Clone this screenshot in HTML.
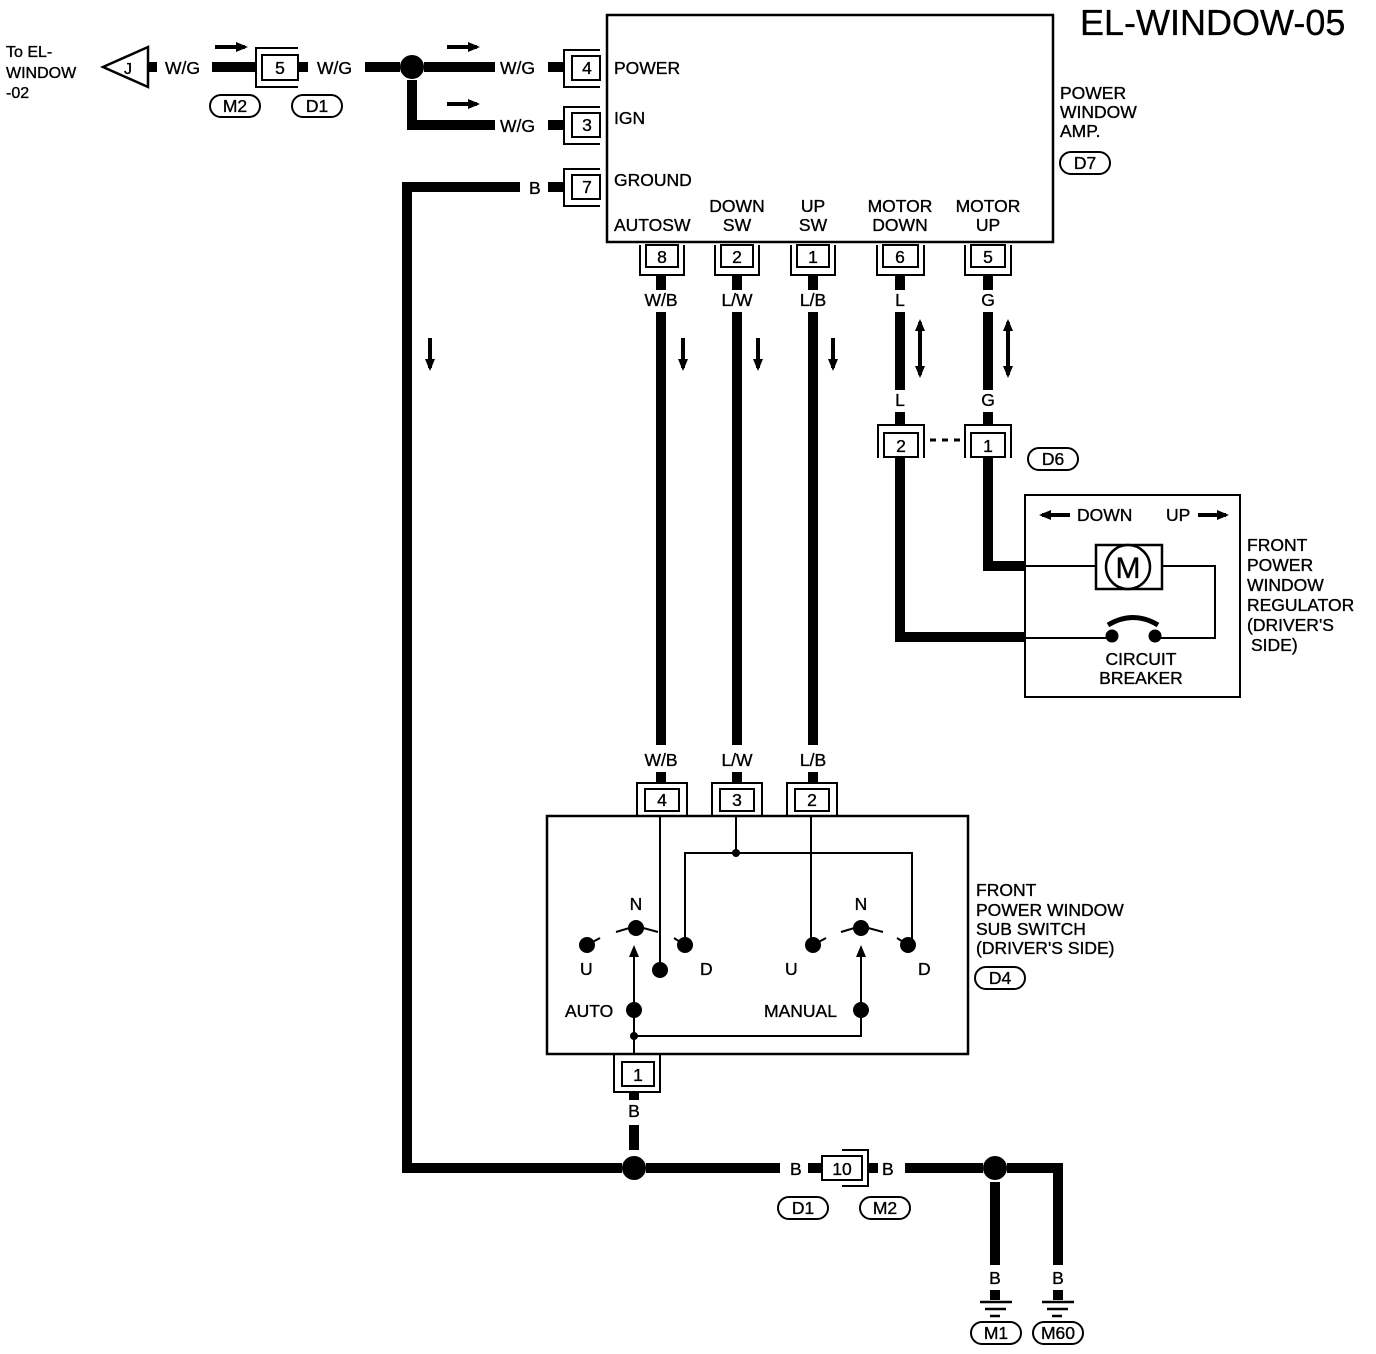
<!DOCTYPE html>
<html><head><meta charset="utf-8"><style>
html,body{margin:0;padding:0;background:#fff}
svg{display:block}
text{font-family:"Liberation Sans",sans-serif;font-size:17.5px;fill:#000;stroke:#000;stroke-width:0.35}
</style></head><body>
<svg width="1376" height="1354" viewBox="0 0 1376 1354" xmlns="http://www.w3.org/2000/svg">
<defs>
<marker id="ah" markerWidth="12" markerHeight="10" refX="9" refY="5" orient="auto-start-reverse" markerUnits="userSpaceOnUse"><path d="M0,0 L12,5 L0,10z" fill="#000"/></marker>
</defs>
<g stroke="#000" fill="none">
<rect x="607" y="15" width="446" height="227" stroke-width="2.5"/>
<g stroke-width="2">
<rect x="572" y="56" width="28" height="24"/><polyline points="600,50 564,50 564,87 600,87"/>
<rect x="572" y="113" width="28" height="24"/><polyline points="600,107 564,107 564,144 600,144"/>
<rect x="572" y="175" width="28" height="24"/><polyline points="600,169 564,169 564,206 600,206"/>
<rect x="262" y="55" width="36" height="25"/><polyline points="298,48 256,48 256,87 298,87"/>
<rect x="646" y="245" width="32" height="22"/><polyline points="640,245 640,275 684,275 684,245"/>
<rect x="721" y="245" width="32" height="22"/><polyline points="715,245 715,275 759,275 759,245"/>
<rect x="797" y="245" width="32" height="22"/><polyline points="791,245 791,275 835,275 835,245"/>
<rect x="883" y="245" width="35" height="22"/><polyline points="877,245 877,275 924,275 924,245"/>
<rect x="971" y="245" width="34" height="22"/><polyline points="965,245 965,275 1011,275 1011,245"/>
<rect x="884" y="433" width="34" height="24"/><polyline points="878,458 878,425 924,425 924,458"/>
<rect x="971" y="433" width="34" height="24"/><polyline points="965,458 965,425 1011,425 1011,458"/>
<rect x="645" y="789" width="34" height="22"/><polyline points="637,816 637,783 687,783 687,816"/>
<rect x="720" y="789" width="34" height="22"/><polyline points="712,816 712,783 762,783 762,816"/>
<rect x="795" y="789" width="34" height="22"/><polyline points="787,816 787,783 837,783 837,816"/>
<rect x="622" y="1062" width="32" height="24"/><polyline points="614,1054 614,1092 660,1092 660,1054"/>
<rect x="822" y="1156" width="40" height="24"/><polyline points="842,1150 868,1150 868,1186 842,1186"/>
</g>
<line x1="930" y1="440" x2="962" y2="440" stroke-width="3" stroke-dasharray="6,6"/>
<g stroke-width="10">
<line x1="148" y1="67" x2="157" y2="67"/>
<line x1="212" y1="67" x2="256" y2="67"/>
<line x1="298" y1="67" x2="308" y2="67"/>
<line x1="365" y1="67" x2="400" y2="67"/>
<line x1="424" y1="67" x2="495" y2="67"/>
<line x1="548" y1="67" x2="564" y2="67"/>
<polyline points="412,80 412,125 495,125"/>
<line x1="548" y1="125" x2="564" y2="125"/>
<line x1="548" y1="187" x2="564" y2="187"/>
<polyline points="520,187 407,187 407,1168 622,1168"/>
<line x1="646" y1="1168" x2="780" y2="1168"/>
<line x1="808" y1="1168" x2="822" y2="1168"/>
<line x1="868" y1="1168" x2="878" y2="1168"/>
<line x1="905" y1="1168" x2="983" y2="1168"/>
<polyline points="1007,1168 1058,1168 1058,1265"/>
<line x1="995" y1="1182" x2="995" y2="1265"/>
<line x1="634" y1="1092" x2="634" y2="1100"/>
<line x1="634" y1="1125" x2="634" y2="1150"/>
<line x1="661" y1="275" x2="661" y2="290"/>
<line x1="737" y1="275" x2="737" y2="290"/>
<line x1="813" y1="275" x2="813" y2="290"/>
<line x1="900" y1="275" x2="900" y2="290"/>
<line x1="988" y1="275" x2="988" y2="290"/>
<line x1="661" y1="312" x2="661" y2="745"/>
<line x1="737" y1="312" x2="737" y2="745"/>
<line x1="813" y1="312" x2="813" y2="745"/>
<line x1="900" y1="312" x2="900" y2="390"/>
<line x1="988" y1="312" x2="988" y2="390"/>
<line x1="900" y1="412" x2="900" y2="425"/>
<line x1="988" y1="412" x2="988" y2="425"/>
<line x1="661" y1="772" x2="661" y2="783"/>
<line x1="737" y1="772" x2="737" y2="783"/>
<line x1="813" y1="772" x2="813" y2="783"/>
<polyline points="900,458 900,637 1025,637"/>
<polyline points="988,458 988,566 1025,566"/>
<line x1="995" y1="1290" x2="995" y2="1300"/>
<line x1="1058" y1="1290" x2="1058" y2="1300"/>
</g>
<polygon points="103,67 148,47 148,87" stroke-width="2.5"/>
<g stroke-width="4">
<line x1="215" y1="47" x2="245" y2="47" marker-end="url(#ah)"/>
<line x1="447" y1="47" x2="477" y2="47" marker-end="url(#ah)"/>
<line x1="447" y1="104" x2="477" y2="104" marker-end="url(#ah)"/>
<line x1="430" y1="338" x2="430" y2="368" marker-end="url(#ah)"/>
<line x1="683" y1="338" x2="683" y2="368" marker-end="url(#ah)"/>
<line x1="758" y1="338" x2="758" y2="368" marker-end="url(#ah)"/>
<line x1="833" y1="338" x2="833" y2="368" marker-end="url(#ah)"/>
<line x1="920" y1="322" x2="920" y2="375" marker-end="url(#ah)" marker-start="url(#ah)"/>
<line x1="1008" y1="322" x2="1008" y2="375" marker-end="url(#ah)" marker-start="url(#ah)"/>
<line x1="1070" y1="515" x2="1042" y2="515" marker-end="url(#ah)"/>
<line x1="1198" y1="515" x2="1226" y2="515" marker-end="url(#ah)"/>
</g>
<rect x="1025" y="495" width="215" height="202" stroke-width="2"/>
<rect x="1096" y="545" width="66" height="44" stroke-width="2.5" fill="#fff"/>
<circle cx="1128" cy="567" r="22" stroke-width="2.5" fill="#fff"/>
<g stroke-width="2">
<line x1="1025" y1="566" x2="1096" y2="566"/>
<polyline points="1162,566 1215,566 1215,638 1160,638"/>
<line x1="1025" y1="638" x2="1110" y2="638"/>
<path d="M1108,625 Q1133,610 1158,625" stroke-width="5"/>
</g>
<circle cx="1112" cy="636" r="6" fill="#000"/>
<circle cx="1155" cy="636" r="6" fill="#000"/>
<rect x="547" y="816" width="421" height="238" stroke-width="2.5"/>
<g stroke-width="2">
<line x1="660" y1="816" x2="660" y2="968"/>
<line x1="736" y1="816" x2="736" y2="853"/>
<polyline points="685,940 685,853 912,853 912,940"/>
<line x1="811" y1="816" x2="811" y2="940"/>
<line x1="634" y1="1054" x2="634" y2="1012"/>
<line x1="634" y1="1010" x2="634" y2="948" marker-end="url(#ah)"/>
<polyline points="634,1036 861,1036 861,1012"/>
<line x1="861" y1="1010" x2="861" y2="948" marker-end="url(#ah)"/>
<path d="M616,932 L636,926 L658,932"/>
<path d="M841,932 L861,926 L883,932"/>
<line x1="587" y1="945" x2="600" y2="938"/>
<line x1="685" y1="945" x2="674" y2="938"/>
<line x1="813" y1="945" x2="826" y2="938"/>
<line x1="908" y1="945" x2="897" y2="938"/>
</g>
</g>
<g fill="#000">
<circle cx="412" cy="67" r="12"/>
<circle cx="634" cy="1168" r="12"/>
<circle cx="995" cy="1168" r="12"/>
<circle cx="636" cy="928" r="8"/><circle cx="861" cy="928" r="8"/>
<circle cx="587" cy="945" r="8"/><circle cx="685" cy="945" r="8"/>
<circle cx="813" cy="945" r="8"/><circle cx="908" cy="945" r="8"/>
<circle cx="660" cy="970" r="8"/>
<circle cx="634" cy="1010" r="8"/><circle cx="861" cy="1010" r="8"/>
<circle cx="736" cy="853" r="4"/><circle cx="634" cy="1036" r="4"/>
</g>
<g stroke="#000" stroke-width="2.5">
<line x1="980" y1="1302" x2="1012" y2="1302"/><line x1="985" y1="1309" x2="1006" y2="1309"/><line x1="990" y1="1316" x2="1000" y2="1316"/>
<line x1="1042" y1="1302" x2="1074" y2="1302"/><line x1="1047" y1="1309" x2="1068" y2="1309"/><line x1="1052" y1="1316" x2="1062" y2="1316"/>
</g>
<g fill="none" stroke="#000" stroke-width="2">
<rect x="210" y="95" width="50" height="22" rx="11"/>
<rect x="292" y="95" width="50" height="22" rx="11"/>
<rect x="1060" y="152" width="50" height="22" rx="11"/>
<rect x="1028" y="448" width="50" height="22" rx="11"/>
<rect x="975" y="967" width="50" height="22" rx="11"/>
<rect x="778" y="1197" width="50" height="22" rx="11"/>
<rect x="860" y="1197" width="50" height="22" rx="11"/>
<rect x="971" y="1322" width="50" height="22" rx="11"/>
<rect x="1033" y="1322" width="50" height="22" rx="11"/>
</g>
<text x="1080" y="35" style="font-size:36px;stroke-width:0.3">EL-WINDOW-05</text>
<text x="6" y="57" style="font-size:16px">To EL-</text>
<text x="6" y="78" style="font-size:16px">WINDOW</text>
<text x="6" y="98" style="font-size:16px">-02</text>
<text x="124" y="74" style="font-size:16px">J</text>
<text x="165" y="74">W/G</text>
<text x="317" y="74">W/G</text>
<text x="500" y="74">W/G</text>
<text x="500" y="132">W/G</text>
<text x="529" y="194">B</text>
<g text-anchor="middle" style="font-size:16px">
<text x="280" y="74">5</text><text x="587" y="74">4</text><text x="587" y="131">3</text><text x="587" y="193">7</text>
<text x="662" y="263">8</text><text x="737" y="263">2</text><text x="813" y="263">1</text><text x="900" y="263">6</text><text x="988" y="263">5</text>
<text x="901" y="452">2</text><text x="988" y="452">1</text>
<text x="662" y="806">4</text><text x="737" y="806">3</text><text x="812" y="806">2</text>
<text x="638" y="1081">1</text><text x="842" y="1175">10</text>
<text x="235" y="112">M2</text><text x="317" y="112">D1</text><text x="1085" y="169">D7</text>
<text x="1053" y="465">D6</text><text x="1000" y="984">D4</text>
<text x="803" y="1214">D1</text><text x="885" y="1214">M2</text>
<text x="996" y="1339">M1</text><text x="1058" y="1339">M60</text>
</g>
<text x="614" y="74">POWER</text>
<text x="614" y="124">IGN</text>
<text x="614" y="186">GROUND</text>
<text x="614" y="231">AUTOSW</text>
<g text-anchor="middle">
<text x="737" y="212">DOWN</text><text x="737" y="231">SW</text>
<text x="813" y="212">UP</text><text x="813" y="231">SW</text>
<text x="900" y="212">MOTOR</text><text x="900" y="231">DOWN</text>
<text x="988" y="212">MOTOR</text><text x="988" y="231">UP</text>
<text x="661" y="306">W/B</text><text x="737" y="306">L/W</text><text x="813" y="306">L/B</text>
<text x="900" y="306">L</text><text x="988" y="306">G</text>
<text x="900" y="406">L</text><text x="988" y="406">G</text>
<text x="661" y="766">W/B</text><text x="737" y="766">L/W</text><text x="813" y="766">L/B</text>
<text x="634" y="1117">B</text>
<text x="995" y="1284">B</text><text x="1058" y="1284">B</text>
<text x="1141" y="665">CIRCUIT</text><text x="1141" y="684">BREAKER</text>
<text x="636" y="910">N</text><text x="861" y="910">N</text>
<text x="1128" y="578" style="font-size:30px">M</text>
</g>
<text x="790" y="1175">B</text><text x="882" y="1175">B</text>
<text x="1060" y="99">POWER</text><text x="1060" y="118">WINDOW</text><text x="1060" y="137">AMP.</text>
<text x="1077" y="521">DOWN</text><text x="1166" y="521">UP</text>
<text x="1247" y="551">FRONT</text><text x="1247" y="571">POWER</text><text x="1247" y="591">WINDOW</text>
<text x="1247" y="611">REGULATOR</text><text x="1247" y="631">(DRIVER'S</text><text x="1251" y="651">SIDE)</text>
<text x="976" y="896">FRONT</text><text x="976" y="916">POWER WINDOW</text><text x="976" y="935">SUB SWITCH</text><text x="976" y="954">(DRIVER'S SIDE)</text>
<text x="580" y="975">U</text><text x="700" y="975">D</text><text x="785" y="975">U</text><text x="918" y="975">D</text>
<text x="565" y="1017">AUTO</text><text x="764" y="1017">MANUAL</text>
</svg>
</body></html>
